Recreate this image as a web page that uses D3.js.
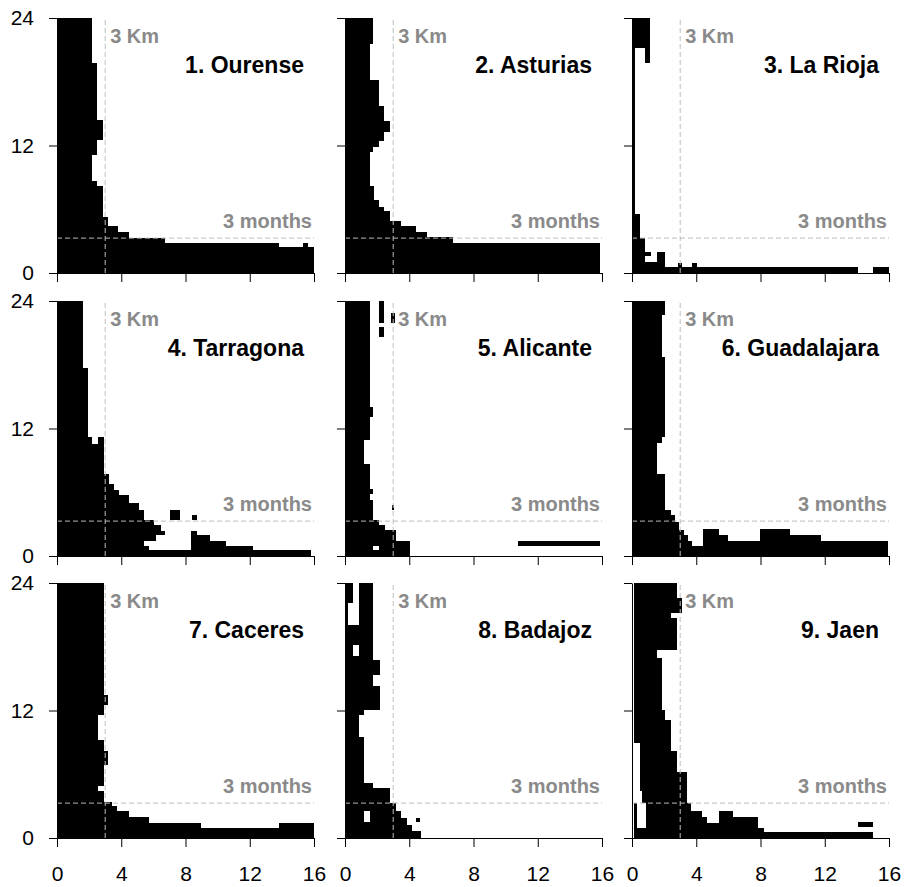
<!DOCTYPE html>
<html>
<head>
<meta charset="utf-8">
<script src="https://cdn.jsdelivr.net/npm/d3@7"></script>
<style>
    body { margin: 0; background: #fff; }
    svg { font-family: "Liberation Sans", Arial, sans-serif; }
</style>
</head>
<body>
<svg id="chart"></svg>
<script>
// each cell block: [month from, month to, km from, km to]
const titles = [ "1. Ourense", "2. Asturias", "3. La Rioja",
                 "4. Tarragona", "5. Alicante", "6. Guadalajara",
                 "7. Caceres", "8. Badajoz", "9. Jaen" ];

const ourense = [
    [19.75, 24, 0, 2.15], [14.4, 19.75, 0, 2.5], [12.5, 14.4, 0, 2.85],
    [11.1, 12.5, 0, 2.5], [8.7, 11.1, 0, 2.2], [8.15, 8.7, 0, 2.5],
    [5.25, 8.15, 0, 2.85], [4.4, 5.25, 0, 3.2], [3.85, 4.4, 0, 3.8],
    [3.3, 3.85, 0, 4.5], [2.8, 3.3, 0, 6.75], [2.45, 2.8, 0, 13.8],
    [2.45, 2.8, 15.3, 15.6], [0, 2.45, 0, 16]
];

const asturias = [
    [21.6, 24, 0, 1.75], [18.2, 21.6, 0, 1.55], [15.7, 18.2, 0, 2.1],
    [14.3, 15.7, 0, 2.45], [13.3, 14.3, 0, 2.8], [12.4, 13.3, 0, 2.45],
    [11.9, 12.4, 0, 2.1], [11.4, 11.9, 0, 1.75], [8.15, 11.4, 0, 1.55],
    [6.9, 8.15, 0, 1.8], [6.25, 6.9, 0, 2.1], [5.8, 6.25, 0, 2.45],
    [4.9, 5.8, 0, 2.8], [4.4, 4.9, 0, 3.5], [3.85, 4.4, 0, 4.45],
    [3.35, 3.85, 0, 5.1], [2.8, 3.35, 0, 6.7], [0, 2.8, 0, 15.9]
];

const laRioja = [
    [21.2, 24, 0, 1.15], [19.8, 21.2, 0.83, 1.15], [5.6, 21.2, 0, 0.2],
    [3.3, 5.6, 0, 0.48], [0.6, 3.3, 0, 0.83], [1.6, 2.0, 0.83, 1.18],
    [0.6, 1.0, 0.83, 1.55], [0.6, 2.0, 1.55, 2.05], [0.6, 0.95, 2.85, 3.1],
    [0.6, 0.95, 3.75, 4.05], [0, 0.6, 0, 14.05], [0, 0.6, 15.0, 16]
];

const tarragona = [
    [17.65, 24, 0, 1.6], [11.2, 17.65, 0, 1.9], [10.5, 11.2, 0, 2.2],
    [10.5, 11.2, 2.55, 2.95], [7.7, 10.5, 0, 2.95], [6.8, 7.7, 0, 3.25],
    [6.25, 6.8, 0, 3.55], [5.7, 6.25, 0, 3.85], [4.95, 5.7, 0, 4.5],
    [4.3, 4.95, 0, 5.1], [3.35, 4.3, 0, 5.4], [2.9, 3.35, 0, 6.05],
    [2.4, 2.9, 0, 6.45], [1.95, 2.4, 0, 6.7], [1.4, 1.95, 0, 6.15],
    [0.9, 1.4, 0, 5.4], [0.55, 0.9, 0, 5.7], [0, 0.55, 0, 15.8],
    [1.95, 2.4, 8.35, 8.7], [1.4, 1.95, 8.35, 9.55], [0.9, 1.4, 8.35, 10.5],
    [0.55, 0.9, 8.35, 12.2], [3.35, 4.3, 7.05, 7.65], [3.4, 3.85, 8.4, 8.7]
];

const alicante = [
    [14.0, 24, 0, 1.55], [13.05, 14.0, 0, 1.75], [10.9, 13.05, 0, 1.55],
    [8.7, 10.9, 0, 1.2], [6.3, 8.7, 0, 1.55], [5.8, 6.3, 0, 1.75],
    [5.25, 5.8, 0, 1.55], [3.35, 5.25, 0, 1.75], [2.9, 3.35, 0, 2.1],
    [2.45, 2.9, 0, 2.5], [1.45, 2.45, 0, 3.2], [0.9, 1.45, 0, 4.05],
    [0.6, 0.9, 0, 1.75], [0.6, 0.9, 2.1, 4.05], [0, 0.6, 0, 4.05],
    [0.9, 1.4, 10.8, 15.9], [21.9, 24, 2.1, 2.4], [20.6, 21.6, 2.1, 2.4],
    [21.9, 22.9, 2.85, 3.1], [4.3, 4.8, 2.9, 3.05]
];

const guadalajara = [
    [22.7, 24, 0, 2.05], [18.75, 22.7, 0, 1.85], [11.2, 18.75, 0, 2.05],
    [10.6, 11.2, 0, 1.85], [7.75, 10.6, 0, 1.55], [4.35, 7.75, 0, 2.05],
    [3.85, 4.35, 0, 2.4], [3.2, 3.85, 0, 2.7], [2.45, 3.2, 0, 2.95],
    [1.95, 2.45, 0, 3.25], [1.4, 1.95, 0, 3.5], [0.9, 1.4, 0, 3.75],
    [0, 0.9, 0, 15.95], [0.9, 2.5, 4.4, 5.4], [0.9, 1.95, 5.4, 5.95],
    [0.9, 1.4, 5.95, 7.95], [0.9, 2.5, 7.95, 9.85], [0.9, 1.95, 9.85, 11.75],
    [0.9, 1.4, 11.75, 15.95]
];

const caceres = [
    [13.5, 24, 0, 2.9], [12.55, 13.5, 0, 3.2], [11.55, 12.55, 0, 2.9],
    [9.2, 11.55, 0, 2.55], [8.15, 9.2, 0, 2.9], [6.9, 8.15, 0, 3.2],
    [4.85, 6.9, 0, 2.9], [4.4, 4.85, 0, 2.55], [3.4, 4.4, 0, 2.9],
    [3.0, 3.4, 0, 3.45], [2.5, 3.0, 0, 3.75], [1.95, 2.5, 0, 4.5],
    [1.4, 1.95, 0, 5.75], [0.95, 1.4, 0, 8.95], [0.95, 1.4, 13.85, 16],
    [0, 0.95, 0, 16]
];

const badajoz = [
    [22.1, 24, 0, 0.52], [20.05, 22.1, 0, 0.2], [20.05, 24, 0.9, 1.75],
    [18.2, 20.05, 0, 1.75], [17.1, 18.2, 0, 0.52], [17.1, 18.2, 0.9, 1.75],
    [16.75, 17.1, 0, 1.75], [15.35, 16.75, 0, 2.15], [14.35, 15.35, 0, 1.75],
    [12.05, 14.35, 0, 2.15], [11.55, 12.05, 0, 1.2], [9.55, 11.55, 0, 0.9],
    [5.15, 9.55, 0, 1.2], [4.7, 5.15, 0, 1.75], [3.3, 4.7, 0, 2.8],
    [2.5, 3.3, 0, 3.2], [1.9, 2.5, 0, 1.2], [1.9, 2.5, 1.55, 3.5],
    [1.55, 1.9, 0, 1.2], [1.55, 1.9, 1.55, 3.85], [1.25, 1.55, 0, 3.85],
    [0.65, 1.25, 0, 4.15], [0, 0.65, 0, 4.75], [1.55, 1.9, 4.45, 4.7]
];

const jaen = [
    [22.55, 24, 0.15, 2.8], [21.15, 22.55, 0.15, 3.1], [20.7, 21.15, 0.15, 2.45],
    [17.7, 20.7, 0.15, 2.8], [16.9, 17.7, 0.15, 1.55], [12.05, 16.9, 0.15, 1.85],
    [11.15, 12.05, 0.15, 2.05], [8.95, 11.15, 0.15, 2.45], [8.15, 8.95, 0.5, 2.45],
    [6.25, 8.15, 0.5, 2.8], [4.4, 6.25, 0.5, 3.45], [3.3, 4.4, 0.6, 3.45],
    [0.95, 3.3, 0.15, 0.3], [2.5, 3.3, 0.85, 3.7], [1.95, 2.5, 0.85, 4.35],
    [1.4, 1.95, 0.85, 4.65], [0.95, 1.4, 0.85, 7.85], [1.4, 2.5, 5.4, 6.3],
    [1.4, 1.95, 6.3, 7.85], [0.6, 0.95, 0.15, 8.2], [0, 0.6, 0.15, 15.0],
    [1.05, 1.5, 14.05, 15.0]
];

const panels = [ ourense, asturias, laRioja, tarragona, alicante, guadalajara, caceres, badajoz, jaen ];
const xticks = [ 0, 4, 8, 12, 16 ];
const yticks = [ 0, 12, 24 ];
const kmLine = 3;
const monthLine = 100 / 30.44;   // 100 days

class RasterPanel {
    constructor( config, data ) {
        this.config = {
            parent: config.parent,
            left: config.left,
            top: config.top,
            width: config.width || 257,
            height: config.height || 255,
            title: config.title || '',
            xlabels: config.xlabels,
            ylabels: config.ylabels
        };
        this.data = data;
        this.init();
    }

    init() {
        let self = this;

        self.chart = self.config.parent.append( 'g' )
            .attr( 'transform', `translate(${self.config.left}, ${self.config.top})` );

        self.xscale = d3.scaleLinear()
            .domain( [ 0, 16 ] )
            .range( [ 0, self.config.width ] );

        self.yscale = d3.scaleLinear()
            .domain( [ 0, 24 ] )
            .range( [ self.config.height, 0 ] );

        self.xaxis = d3.axisBottom( self.xscale )
            .tickValues( xticks )
            .tickSize( 9 )
            .tickSizeOuter( 0 )
            .tickPadding( 19 );
        if ( !self.config.xlabels ) self.xaxis.tickFormat( '' );

        self.yaxis = d3.axisLeft( self.yscale )
            .tickValues( yticks )
            .tickSize( 8 )
            .tickSizeOuter( 0 )
            .tickPadding( 15 );
        if ( !self.config.ylabels ) self.yaxis.tickFormat( '' );
    }

    render() {
        let self = this;

        self.chart.append( 'g' )
            .selectAll( 'rect' )
            .data( self.data )
            .join( 'rect' )
            .attr( 'x', d => self.xscale( d[2] ) )
            .attr( 'y', d => self.yscale( d[1] ) )
            .attr( 'width', d => self.xscale( d[3] ) - self.xscale( d[2] ) )
            .attr( 'height', d => self.yscale( d[0] ) - self.yscale( d[1] ) )
            .attr( 'fill', '#000' )
            .attr( 'shape-rendering', 'crispEdges' );

        // reference lines
        self.chart.append( 'line' )
            .attr( 'x1', self.xscale( kmLine ) ).attr( 'x2', self.xscale( kmLine ) )
            .attr( 'y1', self.yscale( 0 ) ).attr( 'y2', self.yscale( 24 ) )
            .attr( 'stroke', '#bdbdbd' )
            .attr( 'stroke-dasharray', '5,3' );

        self.chart.append( 'line' )
            .attr( 'x1', self.xscale( 0 ) ).attr( 'x2', self.xscale( 16 ) )
            .attr( 'y1', self.yscale( monthLine ) ).attr( 'y2', self.yscale( monthLine ) )
            .attr( 'stroke', '#bdbdbd' )
            .attr( 'stroke-dasharray', '5,3' );

        self.chart.append( 'g' )
            .attr( 'transform', `translate(0, ${self.config.height})` )
            .call( self.xaxis )
            .call( g => g.selectAll( 'text' ).attr( 'font-size', 21 ).attr( 'fill', '#000' ) )
            .call( g => g.attr( 'font-family', null ) );

        self.chart.append( 'g' )
            .call( self.yaxis )
            .call( g => g.selectAll( 'text' ).attr( 'font-size', 21 ).attr( 'fill', '#000' ) )
            .call( g => g.attr( 'font-family', null ) );

        self.chart.append( 'text' )
            .attr( 'x', self.xscale( kmLine ) + 5 )
            .attr( 'y', 25 )
            .attr( 'fill', '#8a8a8a' )
            .style( 'font-size', '20px' )
            .style( 'font-weight', 'bold' )
            .text( '3 Km' );

        self.chart.append( 'text' )
            .attr( 'x', self.xscale( 16 ) - 2 )
            .attr( 'y', self.yscale( monthLine ) - 10 )
            .attr( 'text-anchor', 'end' )
            .attr( 'fill', '#8a8a8a' )
            .style( 'font-size', '20px' )
            .style( 'font-weight', 'bold' )
            .text( '3 months' );

        self.chart.append( 'text' )
            .attr( 'x', self.xscale( 16 ) - 10 )
            .attr( 'y', 55 )
            .attr( 'text-anchor', 'end' )
            .style( 'font-size', '23px' )
            .style( 'font-weight', 'bold' )
            .text( self.config.title );
    }
}

const svg = d3.select( '#chart' )
    .attr( 'width', 907 )
    .attr( 'height', 887 );

const lefts = [ 57, 345, 632 ];
const tops = [ 18, 301, 583 ];

panels.forEach( ( data, i ) => {
    const col = i % 3, row = Math.floor( i / 3 );
    const panel = new RasterPanel( {
        parent: svg,
        left: lefts[col],
        top: tops[row],
        title: titles[i],
        xlabels: row == 2,
        ylabels: col == 0
    }, data );
    panel.render();
});
</script>
</body>
</html>
